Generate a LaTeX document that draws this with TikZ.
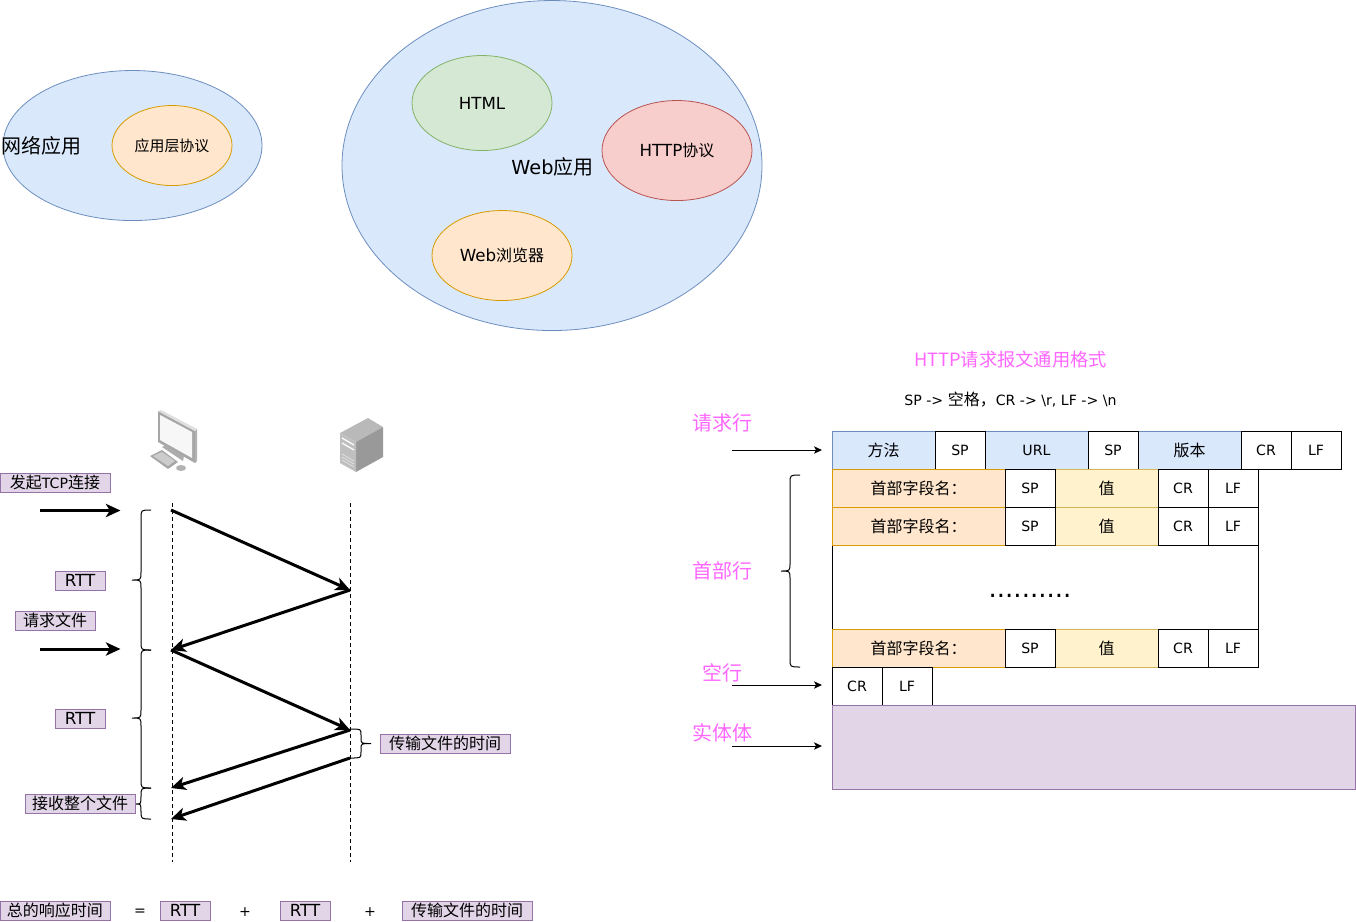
\documentclass[tikz,border=0pt]{standalone}
\usepackage{fontspec}
\setmainfont{Noto Sans CJK SC}
\newfontfamily\latf{DejaVu Sans}
\usetikzlibrary{arrows.meta,shapes.geometric}
\definecolor{bluef}{HTML}{DAE8FC}\definecolor{blues}{HTML}{6C8EBF}
\definecolor{orf}{HTML}{FFE6CC}\definecolor{ors}{HTML}{D79B00}
\definecolor{grf}{HTML}{D5E8D4}\definecolor{grs}{HTML}{82B366}
\definecolor{redf}{HTML}{F8CECC}\definecolor{reds}{HTML}{B85450}
\definecolor{purf}{HTML}{E1D5E7}\definecolor{purs}{HTML}{9673A6}
\definecolor{yelf}{HTML}{FFF2CC}\definecolor{yels}{HTML}{D6B656}
\definecolor{pinkt}{HTML}{FF66FF}
\newcommand\lt[1]{{\latf\fontsize{10.6}{12}\selectfont #1}}
\newcommand\ltw[1]{{\latf\fontsize{12.5}{12}\selectfont #1}}
\newcommand\dn[1]{\raisebox{-0.75pt}{#1}}
\newcommand\sz[1]{\fontsize{#1}{#1}\selectfont}
\newcommand\bx[7]{%
  \pgfmathsetmacro\bw{(#4-#2)*0.75}\pgfmathsetmacro\bh{(#5-#3)*0.75}%
  \node[#6,minimum width=\bw pt,minimum height=\bh pt] (#1) at ({(#2+#4)/2},{(#3+#5)/2}) {#7};}
% left brace: x end, x spine, x tip, y top, y mid, y bottom
\newcommand\brc[6]{%
  \draw[bracel] (#1,#4) .. controls (#2,#4) and (#2,#4) .. (#2,#4+8) -- (#2,#5-8)
     .. controls (#2,#5) and (#2,#5) .. (#3,#5)
     .. controls (#2,#5) and (#2,#5) .. (#2,#5+8) -- (#2,#6-8)
     .. controls (#2,#6) and (#2,#6) .. (#1,#6);}
\tikzset{
  x=0.75pt,y=-0.75pt,
  every node/.style={inner sep=0pt,outer sep=0pt,font=\sz{12}},
  bracel/.style={draw=black,line width=0.75pt},
  oval/.style={ellipse,draw,line width=0.6pt,yshift=-0.4pt},
  bluecell/.style={rectangle,draw=blues,fill=bluef,line width=0.75pt},
  whitecell/.style={rectangle,draw=black,fill=white,line width=0.75pt},
  orcell/.style={rectangle,draw=ors,fill=orf,line width=0.75pt},
  yelcell/.style={rectangle,draw=yels,fill=yelf,line width=0.75pt},
  tag/.style={rectangle,draw=purs,fill=purf,line width=0.75pt},
  pinklabel/.style={text=pinkt,font=\sz{15}},
  thickarrow/.style={line width=2.25pt,-{Stealth[length=11pt,width=10pt,inset=3pt]}},
  thinarrow/.style={line width=0.75pt,-{Stealth[length=6pt,width=5.5pt,inset=1.5pt]}},
  lifeline/.style={line width=0.75pt,dash pattern=on 3pt off 2.25pt},
}
\begin{document}
\begin{tikzpicture}
\useasboundingbox (0,0) rectangle (1356,921);
% ovals top
\bx{net}{3}{70}{262}{220}{oval,draw=blues,fill=bluef}{}
\bx{app}{112}{105}{232}{185}{oval,draw=ors,fill=orf}{\sz{11.2}应用层协议}
\node[font=\sz{15}] (netl) at (42,146) {网络应用};
\bx{web}{342}{0}{762}{330}{oval,draw=blues,fill=bluef}{}
\bx{html}{412}{55}{552}{150}{oval,draw=grs,fill=grf}{\dn{\ltw{HTML}}}
\bx{http}{602}{100}{752}{200}{oval,draw=reds,fill=redf}{\ltw{HTTP}协议}
\bx{brow}{432}{210}{572}{300}{oval,draw=ors,fill=orf}{\ltw{Web}浏览器}
\node[font=\sz{15}] (webl) at (552.5,167) {\latf\sz{14.5}Web\rmfamily\sz{15}应用};
% computer icon
\fill[gray!70] (158,411)--(195,431)--(195,463)--(158,442)--cycle;
\fill[gray!25] (158,411)--(161,410)--(197,429)--(195,431)--cycle;
\fill[gray!60] (195,431)--(197,429)--(197,461)--(195,463)--cycle;
\fill[gray!6] (160,415)--(192,432)--(192,458)--(160,440)--cycle;
\fill[gray!65] (162,447)--(166,445)--(184,456)--(183,461)--cycle;
\fill[gray!70] (150,456)--(162,450)--(178,462)--(168,469)--cycle;
\fill[gray!40] (153,456)--(162,452)--(175,461)--(168,466)--cycle;
\fill[gray!60] (181,468) ellipse [x radius=5,y radius=3];
% server icon
\fill[gray!55] (340,433)--(368,418)--(383,427)--(356,442)--cycle;
\fill[gray!100!black!80] (356,442)--(383,427)--(383,457)--(356,472)--cycle;
\fill[gray!50] (340,433)--(356,442)--(356,472)--(340,463)--cycle;
\draw[white,line width=0.9pt] (342,438)--(354,445) (342,443)--(354,450);
\draw[white!80!gray,line width=0.5pt] (342,454)--(354,461) (342,457)--(354,464) (342,460)--(354,467);
% lifelines
\coordinate (c1t) at (172,503);\coordinate (c1b) at (172,862);
\coordinate (s1t) at (350,503);\coordinate (s1b) at (350,862);
\draw[lifeline] (c1t)--(c1b);
\draw[lifeline] (s1t)--(s1b);
% message arrows
\coordinate (a0) at (171,510);\coordinate (a1) at (350,590);
\coordinate (a2) at (171,650);\coordinate (a3) at (350,730);
\coordinate (a4) at (171,788);\coordinate (a5) at (350,758);
\coordinate (a6) at (171,819);
\draw[thickarrow] (a0)--(a1);
\draw[thickarrow] (a1)--(a2);
\draw[thickarrow] (a2)--(a3);
\draw[thickarrow] (a3)--(a4);
\draw[thickarrow] (a5)--(a6);
\coordinate (l1) at (40,510.5);\coordinate (r1) at (120.5,510.5);
\coordinate (l2) at (40,649);\coordinate (r2) at (120.5,649);
\draw[thickarrow] (l1)--(r1);
\draw[thickarrow] (l2)--(r2);
% braces
\brc{151}{141}{132}{510}{580}{650}
\brc{151}{141}{132}{650}{718}{788}
\brc{151}{141}{136}{788}{804}{819}
\draw[bracel] (351,729) .. controls (361,729) and (361,729) .. (361,735) -- (361,738)
  .. controls (361,743.5) and (361,743.5) .. (371,743.5)
  .. controls (361,743.5) and (361,743.5) .. (361,749) -- (361,752)
  .. controls (361,758) and (361,758) .. (351,758);
% tags
\bx{t1}{0}{473}{110}{492}{tag}{\dn{发起\lt{TCP}连接}}
\bx{t2}{55}{571}{105}{590}{tag}{\dn{\ltw{RTT}}}
\bx{t3}{15}{611}{95}{630}{tag}{\dn{请求文件}}
\bx{t4}{55}{709}{105}{728}{tag}{\dn{\ltw{RTT}}}
\bx{t5}{380}{734}{510}{753}{tag}{\dn{传输文件的时间}}
\bx{t6}{25}{794}{135}{813}{tag}{\dn{接收整个文件}}
\bx{t7}{0}{901}{110}{920}{tag}{\dn{总的响应时间}}
\bx{t8}{160}{901}{210}{920}{tag}{\dn{\ltw{RTT}}}
\bx{t9}{280}{901}{330}{920}{tag}{\dn{\ltw{RTT}}}
\bx{t10}{402}{901}{532}{920}{tag}{\dn{传输文件的时间}}
\node (eq) at (140,912) {\lt{=}};
\node (p1) at (245,912) {\lt{+}};
\node (p2) at (370,912) {\lt{+}};
% title
\node[text=pinkt,font=\sz{13.7}] (title) at (1010.5,360) {HTTP请求报文通用格式};
\node (legend) at (1010.5,399.5) {\lt{SP -> }空格，\lt{CR -> \textbackslash r, LF -> \textbackslash n}};
\node[pinklabel] (lreq) at (722.5,422.5) {请求行};
\node[pinklabel] (lhead) at (722.5,570.5) {首部行};
\node[pinklabel] (lempty) at (722.5,672.5) {空行};
\node[pinklabel] (lbody) at (722.5,732.5) {实体体};
% request line
\bx{m}{832}{431}{935}{469}{bluecell}{方法}
\bx{u}{985}{431}{1088}{469}{bluecell}{\lt{URL}}
\bx{v}{1138}{431}{1241}{469}{bluecell}{版本}
\bx{s1}{935}{431}{985}{469}{whitecell}{\lt{SP}}
\bx{s2}{1088}{431}{1138}{469}{whitecell}{\lt{SP}}
\bx{c0}{1241}{431}{1291}{469}{whitecell}{\lt{CR}}
\bx{f0}{1291}{431}{1341}{469}{whitecell}{\lt{LF}}
% headers
\bx{big}{832}{545}{1258}{629}{whitecell}{}
\node[font=\latf\sz{19.5}] (dots) at (1030,596) {..........};
\foreach \r/\ya/\yb in {a/469/507,b/507/545,c/629/667}{
  \bx{hn\r}{832}{\ya}{1005}{\yb}{orcell}{首部字段名：}
  \bx{hv\r}{1055}{\ya}{1158}{\yb}{yelcell}{值}
  \bx{hs\r}{1005}{\ya}{1055}{\yb}{whitecell}{\lt{SP}}
  \bx{hc\r}{1158}{\ya}{1208}{\yb}{whitecell}{\lt{CR}}
  \bx{hf\r}{1208}{\ya}{1258}{\yb}{whitecell}{\lt{LF}}
}
\bx{ec}{832}{667}{882}{705}{whitecell}{\lt{CR}}
\bx{ef}{882}{667}{932}{705}{whitecell}{\lt{LF}}
\bx{body}{832}{705}{1355}{789}{tag}{}
% arrows into table
\coordinate (q1) at (732,450);\coordinate (q2) at (822,450);
\coordinate (q3) at (732,685);\coordinate (q4) at (822,685);
\coordinate (q5) at (732,746);\coordinate (q6) at (822,746);
\draw[thinarrow] (q1)--(q2);
\draw[thinarrow] (q3)--(q4);
\draw[thinarrow] (q5)--(q6);
\brc{800}{790}{781}{475}{571}{667}
\end{tikzpicture}
\end{document}
